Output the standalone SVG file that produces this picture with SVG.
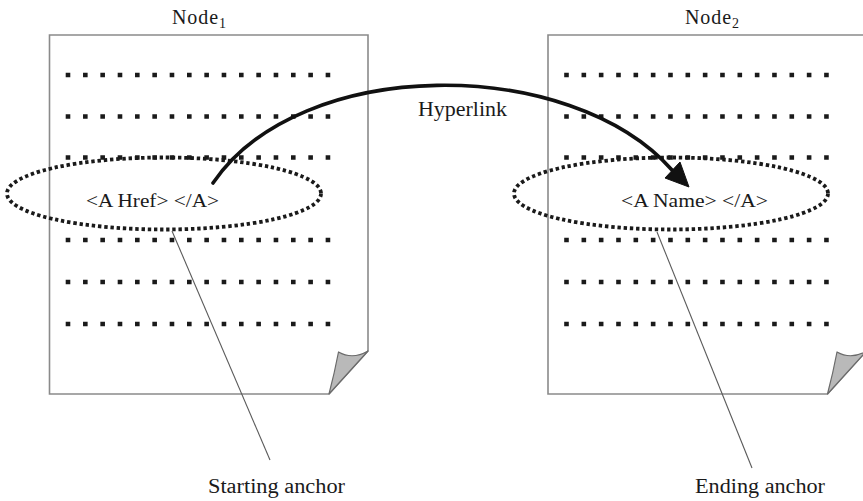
<svg xmlns="http://www.w3.org/2000/svg" width="863" height="501" viewBox="0 0 863 501">
  <style>
    text { font-family: "Liberation Serif", "Times New Roman", serif; fill: #1a1a1a; }
    .page { fill: #ffffff; stroke: #8a8a8a; stroke-width: 1.6; }
    .fold { fill: #b9b9b9; stroke: #6a6a6a; stroke-width: 1.2; stroke-linejoin: round; }
    .dots { stroke: #1a1a1a; stroke-width: 4.6; stroke-dasharray: 4.6 12.73; }
    .anchor { fill: none; stroke: #1a1a1a; stroke-width: 3.8; stroke-dasharray: 3.4 2.8; }
    .leader { stroke: #5a5a5a; stroke-width: 1.1; fill: none; }
    .link { fill: none; stroke: #111; stroke-width: 3.6; stroke-linecap: round; }
    .label { font-size: 20px; }
    .tag { font-size: 19px; }
  </style>
  <defs>
    <!-- one page of text: sheet, folded corner and six rows of dots -->
    <g id="sheet">
      <path class="page" d="M0,0 H318.5 V316 L279.5,359 H0 Z"/>
      <path class="fold" d="M318.5,316 Q303,325 289,317 Q285,338 279.5,359 Z"/>
      <line class="dots" x1="16.2" y1="40" x2="283" y2="40"/>
      <line class="dots" x1="16.2" y1="81.5" x2="283" y2="81.5"/>
      <line class="dots" x1="16.2" y1="122.5" x2="283" y2="122.5"/>
      <line class="dots" x1="16.2" y1="205" x2="283" y2="205"/>
      <line class="dots" x1="16.2" y1="247" x2="283" y2="247"/>
      <line class="dots" x1="16.2" y1="289" x2="283" y2="289"/>
    </g>
  </defs>

  <rect width="863" height="501" fill="#ffffff"/>

  <g id="node1">
    <text class="label" x="172" y="24" textLength="54">Node<tspan font-size="14" dy="4">1</tspan></text>
    <use href="#sheet" x="49.5" y="35"/>
    <ellipse class="anchor" cx="164" cy="193.5" rx="157" ry="36"/>
    <text class="tag" x="86" y="207" textLength="133" lengthAdjust="spacingAndGlyphs">&lt;A Href&gt; &lt;/A&gt;</text>
  </g>

  <g id="node2">
    <text class="label" x="685" y="24" textLength="54">Node<tspan font-size="14" dy="4">2</tspan></text>
    <use href="#sheet" x="548" y="35"/>
    <ellipse class="anchor" cx="671" cy="193.5" rx="157" ry="36"/>
    <text class="tag" x="621" y="207" textLength="147" lengthAdjust="spacingAndGlyphs">&lt;A Name&gt; &lt;/A&gt;</text>
  </g>

  <g id="connectors">
    <!-- hyperlink from the starting anchor to the ending anchor -->
    <path class="link" d="M213,183 C300,55 570,55 672,170"/>
    <polygon points="689,187 665,178 680,162" fill="#111" stroke="#111" stroke-width="1" stroke-linejoin="round"/>
    <text class="label" x="418" y="116" textLength="89" lengthAdjust="spacingAndGlyphs">Hyperlink</text>

    <!-- leader lines to the anchor captions -->
    <line class="leader" x1="172" y1="231" x2="270" y2="460"/>
    <line class="leader" x1="657" y1="232" x2="752" y2="468"/>
    <text class="label" x="208" y="493" textLength="137" lengthAdjust="spacingAndGlyphs">Starting anchor</text>
    <text class="label" x="695" y="493" textLength="130" lengthAdjust="spacingAndGlyphs">Ending anchor</text>
  </g>
</svg>
